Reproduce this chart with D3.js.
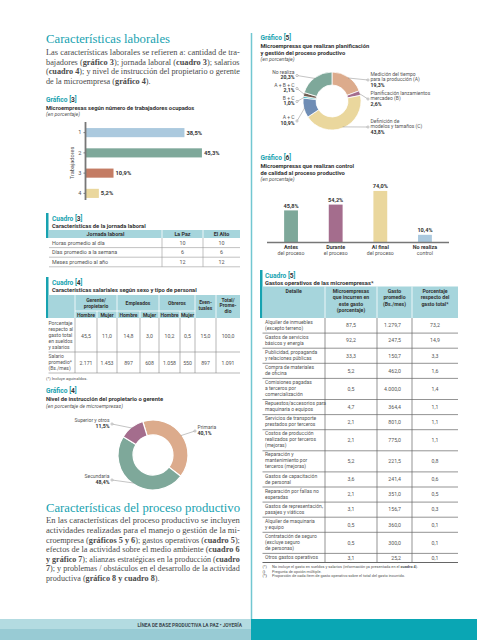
<!DOCTYPE html>
<html><head><meta charset="utf-8">
<script src="https://cdn.jsdelivr.net/npm/d3@7"></script>
<style>body{margin:0;background:#fff}svg{display:block}</style>
</head><body><svg id="c" width="477" height="640"></svg>
<script>
// ---------- DATA ----------
const g3Categories = ["1","2","3","4"];
const g3Values = [38.5,45.3,10.9,5.2];
const c3Headers = ["Jornada laboral","La Paz","El Alto"];
const c3Rows = ["Horas promedio al día","Días promedio a la semana","Meses promedio al año"];
const c3LaPaz = [10,6,12];
const c3ElAlto = [10,6,12];
const c4Groups = ["Gerente/|propietario","Empleados","Obreros"];
const c4Sub = ["Hombre","Mujer"];
const c4RowLabels = ["Porcentaje|respecto al|gasto total|en sueldos|y salarios","Salario|promedio*|(Bs./mes)"];
const c4Pct = [45.5,11.0,14.8,3.0,10.2,0.5,15.0,100.0];
const c4Salary = [2171,1453,897,608,1058,550,897,1091];
const g4Labels = ["Primaria","Secundaria","Superior y otros"];
const g4Values = [40.1,48.4,11.5];
const g5Labels = ["Medición del tiempo|para la producción (A)","Planificación lanzamientos|mercadeo (B)","Definición de|modelos y tamaños (C)","A + C","B + C","A + B + C","No realiza"];
const g5Values = [19.3,2.6,43.8,10.9,1.0,2.1,20.3];
const g6Categories = ["Antes","Durante","Al final","No realiza"];
const g6Sub = ["del proceso","el proceso","del proceso","control"];
const g6Values = [45.8,54.2,74.0,10.4];
const c5Headers = ["Detalle","Microempresas|que incurren en|este gasto**|(porcentaje)","Gasto|promedio|(Bs./mes)","Porcentaje|respecto del|gasto total***"];
const c5Details = ["Alquiler de inmuebles|(excepto terreno)","Gastos de servicios|básicos y energía","Publicidad, propaganda|y relaciones públicas","Compra de materiales|de oficina","Comisiones pagadas|a terceros por|comercialización","Repuestos/accesorios para|maquinaria o equipos","Servicios de transporte|prestados por terceros","Costos de producción|realizados por terceros|(mejoras)","Reparación y|mantenimiento por|terceros (mejoras)","Gastos de capacitación|de personal","Reparación por fallas no|esperadas","Gastos de representación,|pasajes y viáticos","Alquiler de maquinaria|y equipo","Contratación de seguro|(excluye seguro|de personas)","Otros gastos operativos"];
const c5Share = [87.5,92.2,33.3,5.2,0.5,4.7,2.1,2.1,5.2,3.6,2.1,3.1,0.5,0.5,3.1];
const c5Spend = [1279.7,247.5,150.7,462.0,4000.0,364.4,801.0,775.0,221.5,241.4,351.0,156.7,360.0,300.0,25.2];
const c5PctTotal = [73.2,14.9,3.3,1.6,1.4,1.1,1.1,1.1,0.8,0.6,0.5,0.3,0.1,0.1,0.1];

// ---------- STYLE ----------
const SANS = "Roboto, 'Open Sans', sans-serif";
const SERIF = "'Liberation Serif', 'DejaVu Serif', serif";
const TEAL = "#17a2b0", HEAD = "#a6d5dc", TXT = "#555", DARK = "#333";
const C = {sage:"#7ea89a", peach:"#dcab8c", purple:"#a46d8d", yellow:"#ead79d", lblue:"#abc9de", terra:"#c47c64", slate:"#6f8db5", bc:"#1fb0bd", abc:"#6e5d52"};

const loc = d3.formatLocale({decimal:",", thousands:".", grouping:[3], currency:["",""]});
const f1 = loc.format(",.1f"), f0 = loc.format(",.0f");
const pct = v => f1(v) + "%";

const svg = d3.select("#c");

function txt(p, x, y, s, o = {}) {
  const t = p.append("text").attr("x", x).attr("y", y)
    .attr("font-family", o.ff || SANS).attr("font-size", o.fs || 5.4)
    .attr("fill", o.fill || TXT).attr("font-weight", o.fw || "normal")
    .attr("text-anchor", o.anchor || "start");
  if (o.fst) t.attr("font-style", o.fst);
  if (s !== null) {
    s.split("**").forEach((seg, i) => { if (seg) t.append("tspan").attr("font-weight", i % 2 ? "bold" : (o.fw || "normal")).text(seg); });
  }
  if (o.len) t.attr("textLength", o.len).attr("lengthAdjust", o.adj || "spacingAndGlyphs");
  return t;
}
function multi(p, x, y, s, lh, o) { s.split("|").forEach((l, i) => txt(p, x, y + i * lh, l, o)); }
function label(p, x, y, kind, num) {
  const t = txt(p, x, y, null, {fs: 6.6, fw: "bold", fill: TEAL});
  t.append("tspan").text(kind + " [");
  t.append("tspan").attr("fill", DARK).text(num);
  t.append("tspan").text("]");
}
// justified paragraph: scale each line horizontally to target width; last line uses previous scale
function paragraph(lines, x, y0, lh, width, fs) {
  let lastS = 1;
  lines.forEach((l, i) => {
    const t = txt(svg, x, y0 + i * lh, l, {ff: SERIF, fs: fs, fill: "#4a4a4a"});
    const w = t.node().getComputedTextLength();
    const s = i < lines.length - 1 ? width / w : lastS;
    lastS = s;
    t.attr("transform", `translate(${x},0) scale(${s},1) translate(${-x},0)`);
  });
}

// ---------- PAGE FRAME ----------
svg.append("line").attr("x1", 251.5).attr("x2", 251.5).attr("y1", 33).attr("y2", 619).attr("stroke", "#72c7d1").attr("stroke-width", 1.5);
svg.append("rect").attr("x", 0).attr("y", 619).attr("width", 251).attr("height", 10).attr("fill", "#b3dbe1");
svg.append("rect").attr("x", 0).attr("y", 629).attr("width", 251).attr("height", 11).attr("fill", "#98cbd4");
svg.append("rect").attr("x", 251).attr("y", 619).attr("width", 226).attr("height", 21).attr("fill", "#0aa6b4");
txt(svg, 242, 626.5, "LÍNEA DE BASE PRODUCTIVA LA PAZ • JOYERÍA", {fs: 4.8, fw: "bold", fill: "#3d4a50", anchor: "end"});

// ---------- LEFT TEXT ----------
txt(svg, 46, 43, "Características laborales", {ff: SERIF, fs: 13.5, fill: TEAL, len: 124});
const p1 = ["Las características laborales se refieren a: cantidad de tra-",
  "bajadores (**gráfico 3**); jornada laboral (**cuadro 3**); salarios",
  "(**cuadro 4**); y nivel de instrucción del propietario o gerente",
  "de la microempresa (**gráfico 4**)."];
paragraph(p1, 46, 55, 9.6, 194, 8.3);

txt(svg, 46, 512, "Características del proceso productivo", {ff: SERIF, fs: 13.5, fill: TEAL, len: 194});
const p2 = ["En las características del proceso productivo se incluyen",
  "actividades realizadas para el manejo o gestión de la mi-",
  "croempresa (**gráficos 5 y 6**); gastos operativos (**cuadro 5**);",
  "efectos de la actividad sobre el medio ambiente (**cuadro 6**",
  "**y gráfico 7**); alianzas estratégicas en la producción (**cuadro**",
  "**7**); y problemas / obstáculos en el desarrollo de la actividad",
  "productiva (**gráfico 8 y cuadro 8**)."];
paragraph(p2, 46, 523.5, 9.6, 194, 8.3);

// ---------- GRAFICO 3 ----------
label(svg, 46, 101.5, "Gráfico", "3");
txt(svg, 46, 109.5, "Microempresas según número de trabajadores ocupados", {fs: 5.8, fw: "bold", fill: DARK});
txt(svg, 46, 116, "(en porcentaje)", {fs: 5.2, fst: "italic"});
{
  const x = d3.scaleLinear().domain([0, 50]).range([85.5, 85.5 + 128.5]);
  const y = d3.scaleBand().domain(g3Categories).range([122, 204]).paddingInner(0.55).paddingOuter(0.3);
  const g = svg.append("g");
  const cols = [C.lblue, C.sage, C.terra, C.yellow];
  g.selectAll("rect").data(g3Values).join("rect")
    .attr("x", x(0)).attr("y", (d, i) => y(g3Categories[i]))
    .attr("width", d => x(d) - x(0)).attr("height", y.bandwidth()).attr("fill", (d, i) => cols[i]);
  g.selectAll("text.v").data(g3Values).join("text").attr("class", "v")
    .attr("x", d => x(d) + 2).attr("y", (d, i) => y(g3Categories[i]) + y.bandwidth() / 2 + 2)
    .attr("font-family", SANS).attr("font-size", 5.8).attr("font-weight", "bold").attr("fill", DARK).text(pct);
  const ax = svg.append("g").attr("transform", `translate(${x(0)},0)`)
    .call(d3.axisLeft(y).tickSize(2).tickPadding(2));
  ax.select(".domain").attr("stroke", "#777").attr("stroke-width", 1.8).attr("d", `M0,${y.range()[0]}V${y.range()[1] - 4}`);
  ax.selectAll(".tick line").attr("stroke", "#777");
  ax.selectAll(".tick text").attr("font-family", SANS).attr("font-size", 5.6).attr("fill", TXT);
  txt(svg, 0, 0, "Trabajadores", {fs: 5.6, anchor: "middle"}).attr("transform", "translate(74,163) rotate(-90)");
}

// ---------- CUADRO 3 ----------
{
  svg.append("rect").attr("x", 46).attr("y", 213).attr("width", 2.5).attr("height", 25).attr("fill", TEAL);
  label(svg, 52, 220.5, "Cuadro", "3");
  txt(svg, 52, 227.5, "Características de la jornada laboral", {fs: 5.8, fw: "bold", fill: DARK});
  const colX = [49, 162, 203, 240];
  svg.append("rect").attr("x", 49).attr("y", 230).attr("width", 191).attr("height", 8).attr("fill", HEAD);
  [162, 203].forEach(v => svg.append("line").attr("x1", v).attr("x2", v).attr("y1", 230).attr("y2", 238).attr("stroke", "#fff").attr("stroke-width", 0.8));
  c3Headers.forEach((h, i) => txt(svg, (colX[i] + colX[i + 1]) / 2, 236, h, {fs: 5.4, fw: "bold", fill: DARK, anchor: "middle"}));
  c3Rows.forEach((r, i) => {
    const yy = 238 + i * 9.6;
    txt(svg, 52, yy + 6.8, r, {fs: 5.4});
    txt(svg, 182.5, yy + 6.8, String(c3LaPaz[i]), {fs: 5.4, anchor: "middle"});
    txt(svg, 221.5, yy + 6.8, String(c3ElAlto[i]), {fs: 5.4, anchor: "middle"});
    svg.append("line").attr("x1", 49).attr("x2", 240).attr("y1", yy + 9.6).attr("y2", yy + 9.6).attr("stroke", "#999").attr("stroke-width", 0.6);
  });
  [162, 203].forEach(v => svg.append("line").attr("x1", v).attr("x2", v).attr("y1", 238).attr("y2", 238 + 3 * 9.6).attr("stroke", "#999").attr("stroke-width", 0.6));
}

// ---------- CUADRO 4 ----------
{
  svg.append("rect").attr("x", 46).attr("y", 277).attr("width", 2.5).attr("height", 41).attr("fill", TEAL);
  label(svg, 52, 284.5, "Cuadro", "4");
  txt(svg, 52, 291.5, "Características salariales según sexo y tipo de personal", {fs: 5.8, fw: "bold", fill: DARK});
  const cx = [75, 97, 117, 140, 159, 180, 195, 216, 240];
  svg.append("rect").attr("x", 48.5).attr("y", 295).attr("width", 191.5).attr("height", 23).attr("fill", HEAD);
  const wl = (x1, y1, x2, y2) => svg.append("line").attr("x1", x1).attr("y1", y1).attr("x2", x2).attr("y2", y2).attr("stroke", "#fff").attr("stroke-width", 0.8);
  [75, 117, 159, 195, 216].forEach(v => wl(v, 295, v, 318));
  [97, 140, 180].forEach(v => wl(v, 311, v, 318));
  wl(75, 311, 195, 311);
  const hs = {fs: 5.0, fw: "bold", fill: DARK, anchor: "middle"};
  c4Groups.forEach((g, i) => {
    const mid = (cx[i * 2] + cx[i * 2 + 2]) / 2;
    const lines = g.split("|");
    multi(svg, mid, lines.length > 1 ? 302 : 305, g, 5.5, hs);
    c4Sub.forEach((s, j) => txt(svg, (cx[i * 2 + j] + cx[i * 2 + j + 1]) / 2, 316.5, s, hs));
  });
  multi(svg, 205.5, 304, "Even-|tuales", 5.8, hs);
  multi(svg, 228, 301.5, "Total/|Prome-|dio", 5.6, hs);
  const rows = [{y1: 352, vals: c4Pct.map(f1), vy: 338}, {y1: 373, vals: c4Salary.map(f0), vy: 364.5}];
  rows.forEach((r, ri) => {
    multi(svg, 48.5, ri === 0 ? 324.5 : 358, c4RowLabels[ri], 6.2, {fs: 5.0});
    r.vals.forEach((v, i) => txt(svg, (cx[i] + cx[i + 1]) / 2, r.vy, v, {fs: 5.2, anchor: "middle"}));
    svg.append("line").attr("x1", 48.5).attr("x2", 240).attr("y1", r.y1).attr("y2", r.y1).attr("stroke", "#888").attr("stroke-width", 0.6);
  });
  cx.slice(0, 8).forEach(v => svg.append("line").attr("x1", v).attr("x2", v).attr("y1", 318).attr("y2", 373).attr("stroke", "#888").attr("stroke-width", 0.6));
  txt(svg, 46, 380, "(*)  Incluye aguinaldos.", {fs: 4.2});
}

// ---------- GRAFICO 4 ----------
{
  label(svg, 46, 393, "Gráfico", "4");
  txt(svg, 46, 400.5, "Nivel de instrucción del propietario o gerente", {fs: 5.8, fw: "bold", fill: DARK});
  txt(svg, 46, 408, "(en porcentaje de microempresas)", {fs: 5.2, fst: "italic"});
  const cxp = 153, cyp = 455, R = 35, r = 20;
  const deg = Math.PI / 180;
  const pie = d3.pie().sort(null).startAngle(-17 * deg).endAngle(343 * deg);
  const arcs = pie(g4Values);
  const arc = d3.arc().innerRadius(r).outerRadius(R);
  const cols = [C.peach, C.sage, C.purple];
  const g = svg.append("g").attr("transform", `translate(${cxp},${cyp})`);
  g.selectAll("path").data(arcs).join("path").attr("d", arc).attr("fill", (d, i) => cols[i]).attr("stroke", "#fff").attr("stroke-width", 1.2);
  const lay = [[195, 431, 1], [112, 480, -1], [112, 424, -1]];
  arcs.forEach((a, i) => {
    const m = (a.startAngle + a.endAngle) / 2;
    const px = cxp + Math.sin(m) * (R - 1), py = cyp - Math.cos(m) * (R - 1);
    const [lx, ly, s] = lay[i];
    svg.append("line").attr("x1", lx).attr("y1", ly).attr("x2", px).attr("y2", py).attr("stroke", "#888").attr("stroke-width", 0.5);
    svg.append("circle").attr("cx", lx).attr("cy", ly).attr("r", 1.1).attr("fill", "#fff").attr("stroke", "#888").attr("stroke-width", 0.5);
    const tx = lx + s * 2.5, an = s > 0 ? "start" : "end";
    txt(svg, tx, ly - 2, g4Labels[i], {fs: 5.0, anchor: an});
    txt(svg, tx, ly + 3.8, pct(g4Values[i]), {fs: 5.2, fw: "bold", fill: DARK, anchor: an});
  });
}

// ---------- GRAFICO 5 ----------
{
  label(svg, 260.5, 39.5, "Gráfico", "5");
  txt(svg, 260.5, 47.5, "Microempresas que realizan planificación", {fs: 5.8, fw: "bold", fill: DARK});
  txt(svg, 260.5, 54.5, "y gestión del proceso productivo", {fs: 5.8, fw: "bold", fill: DARK});
  txt(svg, 260.5, 61, "(en porcentaje)", {fs: 5.2, fst: "italic"});
  const cxp = 332, cyp = 101, R = 29, r = 16;
  const arcs = d3.pie().sort(null)(g5Values);
  const arc = d3.arc().innerRadius(r).outerRadius(R);
  const cols = [C.peach, C.purple, C.yellow, C.slate, C.bc, C.abc, C.sage];
  const g = svg.append("g").attr("transform", `translate(${cxp},${cyp})`);
  g.selectAll("path").data(arcs).join("path").attr("d", arc).attr("fill", (d, i) => cols[i]).attr("stroke", "#fff").attr("stroke-width", 0.8);
  const lay = [[368, 80, 1], [368, 99, 1], [368, 127, 1], [297, 121, -1], [297, 101.5, -1], [297, 88.5, -1], [297, 75.5, -1]];
  arcs.forEach((a, i) => {
    const m = (a.startAngle + a.endAngle) / 2;
    const px = cxp + Math.sin(m) * (R - 1), py = cyp - Math.cos(m) * (R - 1);
    const [lx, ly, s] = lay[i];
    svg.append("line").attr("x1", lx).attr("y1", ly).attr("x2", px).attr("y2", py).attr("stroke", "#888").attr("stroke-width", 0.5);
    svg.append("circle").attr("cx", lx).attr("cy", ly).attr("r", 1.1).attr("fill", "#fff").attr("stroke", "#888").attr("stroke-width", 0.5);
    const lines = g5Labels[i].split("|");
    const tx = lx + s * 2.5, an = s > 0 ? "start" : "end";
    const y0 = s > 0 ? ly - 4.5 : ly - 2;
    lines.forEach((l, k) => txt(svg, tx, y0 + k * 5.6, l, {fs: 5.0, anchor: an}));
    txt(svg, tx, y0 + lines.length * 5.6 + 0.3, pct(g5Values[i]), {fs: 5.2, fw: "bold", fill: DARK, anchor: an});
  });
}

// ---------- GRAFICO 6 ----------
{
  label(svg, 260.5, 159.5, "Gráfico", "6");
  txt(svg, 260.5, 167.5, "Microempresas que realizan control", {fs: 5.8, fw: "bold", fill: DARK});
  txt(svg, 260.5, 174.5, "de calidad al proceso productivo", {fs: 5.8, fw: "bold", fill: DARK});
  txt(svg, 260.5, 181, "(en porcentaje)", {fs: 5.2, fst: "italic"});
  const x = d3.scaleBand().domain(g6Categories).range([268.5, 447.5]).paddingInner(0.69).paddingOuter(0.35);
  const y = d3.scaleLinear().domain([0, 100]).range([242, 173]);
  const cols = [C.sage, C.purple, C.yellow, C.lblue];
  svg.selectAll("rect.g6").data(g6Values).join("rect").attr("class", "g6")
    .attr("x", (d, i) => x(g6Categories[i])).attr("y", d => y(d))
    .attr("width", x.bandwidth()).attr("height", d => y(0) - y(d)).attr("fill", (d, i) => cols[i]);
  g6Values.forEach((d, i) => {
    const mx = x(g6Categories[i]) + x.bandwidth() / 2;
    txt(svg, mx, y(d) - 2.5, pct(d), {fs: 5.6, fw: "bold", fill: DARK, anchor: "middle"});
    txt(svg, mx, 248.5, g6Categories[i], {fs: 5.4, fw: "bold", fill: DARK, anchor: "middle"});
    txt(svg, mx, 254.5, g6Sub[i], {fs: 5.2, anchor: "middle"});
  });
  svg.append("line").attr("x1", 267).attr("x2", 449).attr("y1", y(0) + 0.5).attr("y2", y(0) + 0.5).attr("stroke", "#777").attr("stroke-width", 1.3);
}

// ---------- CUADRO 5 ----------
{
  svg.append("rect").attr("x", 260).attr("y", 270).attr("width", 2.5).attr("height", 48).attr("fill", TEAL);
  label(svg, 265, 277.5, "Cuadro", "5");
  txt(svg, 265, 284.5, "Gastos operativos de las microempresas*", {fs: 5.8, fw: "bold", fill: DARK});
  const cx = [262.5, 325, 377, 412, 458];
  svg.append("rect").attr("x", 262.5).attr("y", 286.5).attr("width", 195.5).attr("height", 31.5).attr("fill", HEAD);
  [325, 377, 412].forEach(v => svg.append("line").attr("x1", v).attr("x2", v).attr("y1", 286.5).attr("y2", 318).attr("stroke", "#fff").attr("stroke-width", 0.8));
  c5Headers.forEach((h, i) => multi(svg, (cx[i] + cx[i + 1]) / 2, 292.5, h, 6.6, {fs: 5.2, fw: "bold", fill: DARK, anchor: "middle"}));
  const LH = 6.0, PAD = 3.1;
  let yy = 318;
  c5Details.forEach((d, i) => {
    const n = d.split("|").length;
    const h = n * LH + PAD;
    multi(svg, 265, yy + 5.6, d, LH, {fs: 5.0});
    const vy = yy + h / 2 + 1.8;
    txt(svg, 351, vy, f1(c5Share[i]), {fs: 5.2, anchor: "middle"});
    txt(svg, 401, vy, f1(c5Spend[i]), {fs: 5.2, anchor: "end"});
    txt(svg, 435, vy, f1(c5PctTotal[i]), {fs: 5.2, anchor: "middle"});
    yy += h;
    svg.append("line").attr("x1", 262.5).attr("x2", 458).attr("y1", yy).attr("y2", yy).attr("stroke", "#666").attr("stroke-width", i === c5Details.length - 1 ? 1.2 : 0.7);
  });
  [325, 377, 412].forEach(v => svg.append("line").attr("x1", v).attr("x2", v).attr("y1", 318).attr("y2", yy).attr("stroke", "#666").attr("stroke-width", 0.7));
  const fn = [["(*)", "No incluye el gasto en sueldos y salarios (información ya presentada en el **cuadro 4**)."],
              ["(**)", "Pregunta de opción múltiple."],
              ["(***)", "Proporción de cada ítem de gasto operativo sobre el total del gasto incurrido."]];
  fn.forEach((f, i) => { txt(svg, 262.5, yy + 5.5 + i * 4.6, f[0], {fs: 3.9}); txt(svg, 272, yy + 5.5 + i * 4.6, f[1], {fs: 3.9}); });
}
</script></body></html>
